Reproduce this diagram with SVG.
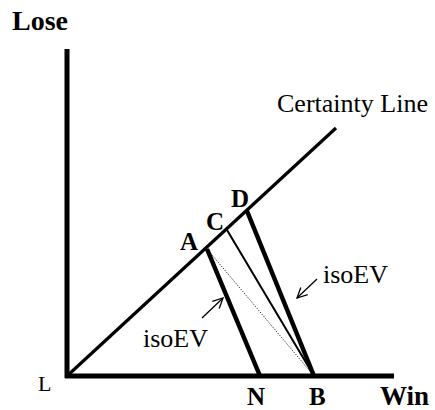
<svg xmlns="http://www.w3.org/2000/svg" width="435" height="410" viewBox="0 0 435 410">
<style>
text{font-family:"Liberation Serif","Times New Roman",serif;fill:#000}
.b{font-weight:bold}
.ax{stroke:#000;stroke-width:5;fill:none}
.thick{stroke:#000;stroke-width:4.5;fill:none}
.cl{stroke:#000;stroke-width:3.2;fill:none}
.thin{stroke:#000;stroke-width:2;fill:none}
.dot{stroke:#000;stroke-width:1;stroke-dasharray:1 1.5;fill:none}
.arr{stroke:#000;stroke-width:1.3;fill:none;marker-end:url(#ah)}
</style>
<defs>
<marker id="ah" viewBox="0 0 12 12" refX="11" refY="6" markerWidth="12" markerHeight="12" markerUnits="userSpaceOnUse" orient="auto">
<path d="M1,1 L11,6 L1,11" fill="none" stroke="#000" stroke-width="1.3"/>
</marker>
</defs>
<g id="axes">
<line class="ax" x1="67" y1="49" x2="67" y2="378"/>
<line class="ax" x1="65" y1="376" x2="394" y2="376"/>
<text class="b" x="12" y="30" font-size="28">Lose</text>
<text class="b" x="380" y="405" font-size="27">Win</text>
<text x="38" y="391" font-size="22">L</text>
</g>
<g id="connectors">
<line class="cl" x1="67" y1="376" x2="336" y2="128"/>
<line class="thick" x1="207" y1="249" x2="260" y2="376"/>
<line class="thick" x1="247" y1="211" x2="314" y2="376"/>
<line class="thin" x1="227" y1="230" x2="314" y2="376"/>
<line class="dot" x1="207" y1="249" x2="314" y2="376"/>
<line class="arr" x1="202" y1="318" x2="223" y2="298"/>
<line class="arr" x1="317" y1="279" x2="297" y2="298"/>
</g>
<g id="certainty"><text x="277" y="112" font-size="26" textLength="151" lengthAdjust="spacingAndGlyphs">Certainty Line</text></g>
<g id="A"><text class="b" x="180" y="250" font-size="25">A</text></g>
<g id="C"><text class="b" x="206" y="230" font-size="25">C</text></g>
<g id="D"><text class="b" x="231" y="207" font-size="25">D</text></g>
<g id="N"><text class="b" x="247" y="405" font-size="25">N</text></g>
<g id="B"><text class="b" x="309" y="405" font-size="25">B</text></g>
<g id="iso1"><text x="143" y="347" font-size="26">isoEV</text></g>
<g id="iso2"><text x="323" y="283" font-size="26">isoEV</text></g>
</svg>
